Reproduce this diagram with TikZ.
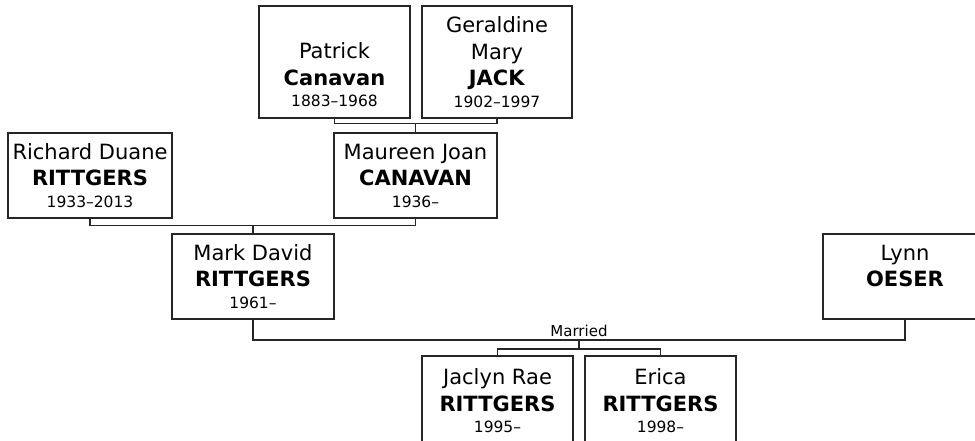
\documentclass[tikz,border=0pt]{standalone}
\usepackage{fontspec}
\setmainfont{DejaVu Sans}
\usepackage{tikz}
\newcommand{\datefont}{\fontsize{15.5}{19}\selectfont}

\begin{document}
\begin{tikzpicture}[
  x=1pt, y=-1pt,
  person/.style={draw=black!85, line width=1.2pt, align=center, inner sep=0pt,
    font=\fontsize{21}{26.5}\selectfont, minimum height=85pt},
  tall/.style={minimum height=112pt},
  link/.style={draw=black!85, line width=1.2pt}
]
\useasboundingbox (0,0) rectangle (975,441);
\clip (0,0) rectangle (975,441);
% grandparents
\node[person, tall, minimum width=151pt] (patrick) at (334.5,62) {\phantom{Gg}\\ Patrick\\ \textbf{Canavan}\\[-5pt] \datefont 1883--1968};
\node[person, tall, minimum width=150pt] (geraldine) at (497,62) {Geraldine\\ Mary\\ \textbf{JACK}\\[-5pt] \datefont 1902--1997};
% parents of Mark
\node[person, minimum width=164pt] (richard) at (90,175.5) {Richard Duane\\ \textbf{RITTGERS}\\[-5pt] \datefont 1933--2013};
\node[person, minimum width=163pt] (maureen) at (415.5,175.5) {Maureen Joan\\ \textbf{CANAVAN}\\[-5pt] \datefont 1936--};
% couple
\node[person, minimum width=162pt] (mark) at (253,276.5) {Mark David\\ \textbf{RITTGERS}\\[-5pt] \datefont 1961--};
\node[person, minimum width=164pt] (lynn) at (905,276.5) {Lynn\\ \textbf{OESER}\\[-5pt] \datefont\phantom{1}};
% children
\node[person, minimum width=151pt, minimum height=90pt] (jaclyn) at (497.5,401) {Jaclyn Rae\\ \textbf{RITTGERS}\\[-5pt] \datefont 1995--};
\node[person, minimum width=151pt, minimum height=90pt] (erica) at (660.5,401) {Erica\\ \textbf{RITTGERS}\\[-5pt] \datefont 1998--};

\coordinate (pgbar) at ([yshift=9pt]maureen.north);
\draw[link] (patrick.south) |- (pgbar) -| (geraldine.south);
\draw[link] (pgbar) -- (maureen.north);

\coordinate (rmbar) at ([yshift=8pt]mark.north);
\draw[link] (richard.south) |- (rmbar) -| (maureen.south);
\draw[link] (rmbar) -- (mark.north);

\coordinate (wed) at (579,340);
\draw[link] (mark.south) |- (wed) -| (lynn.south);
\node[anchor=south, inner sep=3pt, font=\fontsize{15}{18}\selectfont] (married) at (wed) {Married};
\coordinate (kids) at ([yshift=-9pt]wed);
\draw[link] (wed) -- (kids);
\draw[link] (jaclyn.north) |- (kids) -| (erica.north);
\end{tikzpicture}
\end{document}
